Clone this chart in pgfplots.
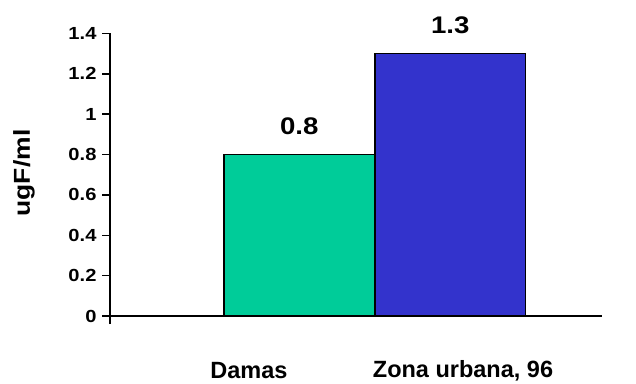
\documentclass[border=0pt]{standalone}
\usepackage{fontspec}
\setmainfont{Liberation Sans}[FakeStretch=1.15]
\newfontfamily\catfont{Liberation Sans}
\usepackage{pgfplots}
\pgfplotsset{compat=1.18}
\definecolor{barGreen}{RGB}{0,204,153}
\definecolor{barBlue}{RGB}{51,51,204}
\begin{document}
\begin{tikzpicture}[x=1pt,y=1pt]
\useasboundingbox (0,0) rectangle (636,383);
\begin{axis}[
    at={(110pt,67pt)}, anchor=south west,
    scale only axis, width=492pt, height=282.5pt,
    xmin=110, xmax=602, ymin=0, ymax=1.4,
    clip=false,
    axis x line*=bottom, axis y line*=left,
    axis line style={-, line width=1.5pt},
    xtick={110}, xticklabels={},
    ytick={0,0.2,0.4,0.6,0.8,1,1.2,1.4},
    tick align=outside, major tick length=8pt,
    tick style={line width=1.5pt, black},
    /pgf/number format/assume math mode=true,
    yticklabel style={font=\bfseries\fontsize{17.5}{18}\selectfont, xshift=-2pt},
    nodes near coords,
    every node near coord/.append style={anchor=center, yshift=28pt,
        font=\bfseries\fontsize{24}{24}\selectfont},
]
\addplot[ybar, bar width=150.5, bar shift=0pt, fill=barGreen, draw=black, line width=1.3pt]
    coordinates {(299.25,0.8)};
\addplot[ybar, bar width=150.5, bar shift=0pt, fill=barBlue, draw=black, line width=1.3pt]
    coordinates {(450.25,1.3)};
\node[inner sep=0pt, font=\catfont\bfseries\fontsize{23.5}{24}\selectfont] at (axis cs:249,0) [yshift=-54.5pt] {Damas};
\node[inner sep=0pt, font=\catfont\bfseries\fontsize{23.5}{24}\selectfont] at (axis cs:463,0) [yshift=-54.5pt] {Zona urbana, 96};
\end{axis}
\node[rotate=90, font=\bfseries\fontsize{23}{24}\selectfont] at (24,210) {ugF/ml};
\end{tikzpicture}
\end{document}
